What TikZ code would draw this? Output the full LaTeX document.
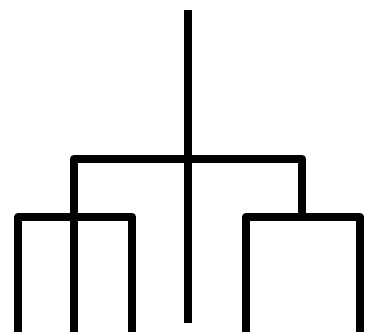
\documentclass[tikz,border=0pt]{standalone}
\begin{document}
\begin{tikzpicture}[x=1pt,y=-1pt,
  branch/.style={line width=8.5pt,line join=round,black}]
\useasboundingbox[fill=white] (0,0) rectangle (366,332);
\coordinate (top) at (188,10);
\coordinate (mid) at (188,323);
\coordinate (tl) at (74,159);
\coordinate (tr) at (302,159);
\coordinate (lb) at (74,332);
\coordinate (rj) at (302,217);
\coordinate (l1) at (18,217);
\coordinate (l2) at (132,217);
\coordinate (l1b) at (18,332);
\coordinate (l2b) at (132,332);
\coordinate (r1) at (246,217);
\coordinate (r2) at (360,217);
\coordinate (r1b) at (246,332);
\coordinate (r2b) at (360,332);
\draw[branch] (top) -- (mid);
\draw[branch] (lb) -- (tl) -- (tr) -- (rj);
\draw[branch] (l1b) -- (l1) -- (l2) -- (l2b);
\draw[branch] (r1b) -- (r1) -- (r2) -- (r2b);
\end{tikzpicture}
\end{document}
